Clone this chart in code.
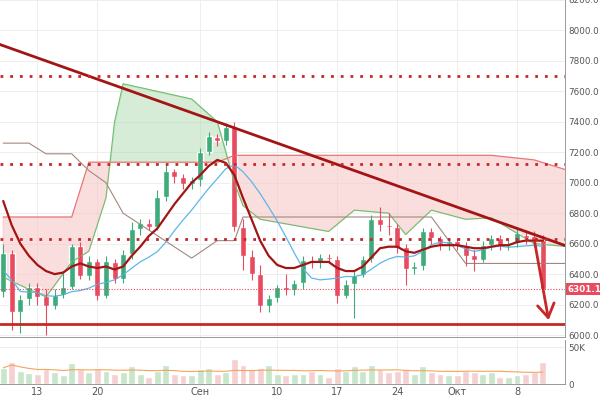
import numpy as np, pandas as pd, matplotlib
matplotlib.use("Agg")
import matplotlib.pyplot as plt, seaborn as sns

dates = pd.date_range("2018-08-09", "2018-10-11")
opens  = [6282,6538,6150,6236,6315,6256,6190,6262,6315,6584,6387,6485,6256,6480,6367,6530,6695,6735,6710,6905,7080,7036,6990,7017,7200,7300,7272,7365,6710,6520,6400,6190,6243,6315,6295,
          6339,6492,6475,6510,6500,6256,6335,6394,6497,6765,6725,6710,6580,6436,6452,6686,6634,6595,6617,6590,6525,6492,6588,6638,6590,6605,6660,6650,6627]
closes = [6538,6150,6236,6315,6250,6190,6262,6315,6584,6387,6485,6256,6485,6367,6530,6695,6735,6710,6905,7080,7036,6990,7017,7200,7305,7272,7365,6710,6520,6400,6190,6243,6315,6295,6340,
          6492,6470,6510,6500,6256,6335,6394,6497,6765,6722,6710,6574,6436,6452,6686,6634,6595,6617,6590,6518,6492,6588,6638,6590,6605,6667,6634,6617,6301]
highs  = [6600,6560,6260,6340,6340,6300,6300,6420,6600,6610,6520,6500,6520,6500,6560,6740,6760,6760,6950,7120,7090,7060,7040,7230,7330,7320,7390,7400,6760,6560,6460,6260,6330,6400,6360,
          6520,6520,6530,6530,6520,6360,6420,6520,6790,6840,6800,6730,6600,6480,6700,6700,6650,6640,6640,6610,6560,6620,6660,6660,6630,6700,6690,6680,6660]
lows   = [6250,6033,6013,6200,6200,6000,6170,6240,6300,6370,6360,6230,6240,6340,6340,6500,6660,6690,6690,6880,7000,6960,6960,6980,7180,7240,7250,6680,6430,6360,6150,6150,6220,6260,6260,
          6300,6440,6440,6480,6208,6240,6109,6380,6480,6680,6660,6540,6330,6400,6430,6600,6560,6560,6560,6450,6420,6480,6560,6560,6560,6580,6600,6580,6280]
volumes = [22,30,18,15,14,20,16,12,28,20,16,22,18,14,16,24,14,10,18,26,14,12,12,20,22,14,16,34,26,20,22,26,14,12,14,
           14,18,14,10,22,18,24,18,26,20,16,18,20,14,24,16,14,12,12,18,16,14,16,10,10,12,14,16,30]
red_line = [6880,6720,6600,6520,6460,6420,6400,6410,6450,6470,6450,6440,6450,6430,6450,6520,6580,6650,6700,6780,6860,6930,7000,7050,7110,7150,7130,7050,6900,6760,6620,6520,6460,6440,6440,
            6460,6480,6480,6480,6440,6420,6420,6450,6510,6570,6580,6580,6550,6540,6560,6580,6590,6590,6590,6580,6570,6570,6580,6590,6590,6610,6620,6620,6620]
cloud_dates = pd.to_datetime(["2018-08-09","2018-08-12","2018-08-14","2018-08-17","2018-08-19","2018-08-21","2018-08-22","2018-08-23",
    "2018-08-31","2018-09-03","2018-09-05","2018-09-06","2018-09-08","2018-09-16","2018-09-19","2018-09-23","2018-09-25","2018-09-28",
    "2018-10-02","2018-10-05","2018-10-10","2018-10-14"])
span_a = [6380,6300,6250,6480,6550,6900,7400,7650,7550,7400,7000,6850,6760,6680,6820,6800,6660,6820,6760,6770,6600,6580]
span_b = [6775,6775,6775,6775,7135,7135,7135,7135,7135,7135,7180,7180,7180,7180,7180,7180,7180,7180,7180,7180,7150,7080]
kijun  = [7260,7260,7190,7190,7080,7000,6900,6800,6505,6620,6620,6775,6775,6775,6775,6775,6775,6775,6470,6470,6470,6470]
xticks = pd.to_datetime(["2018-08-13","2018-08-20","2018-09-01","2018-09-10","2018-09-17","2018-09-24","2018-10-01","2018-10-08"])
xlabels = ["13","20","Сен","10","17","24","Окт","8"]

sns.set_theme(style="whitegrid")
plt.rcParams['font.family'] = ['DejaVu Sans']
df = pd.DataFrame(dict(date=dates, o=opens, c=closes, h=highs, l=lows, v=volumes, ma=red_line))
df["up"] = df.c >= df.o
GREEN, RED = "#3dab7b", "#e84a5f"
fig = plt.figure(figsize=(6, 4), dpi=100)
ax = fig.add_axes([0, 0.1575, 0.942, 0.8425])
axv = fig.add_axes([0, 0.04, 0.942, 0.11], sharex=ax)

A, B = np.array(span_a), np.array(span_b)
ax.fill_between(cloud_dates, A, B, where=A >= B, color="#a5d6a7", alpha=0.45, interpolate=True)
ax.fill_between(cloud_dates, A, B, where=A < B, color="#f8c7c7", alpha=0.6, interpolate=True)
ax.plot(cloud_dates, A, color="#6fbf6f", lw=0.8)
ax.plot(cloud_dates, B, color="#e57373", lw=0.8)
ax.plot(cloud_dates, kijun, color="#a1887f", lw=0.8)
df["tenkan"] = ((df.h + df.l) / 2).rolling(9, min_periods=1).mean()
ax.plot(df.date, df.tenkan, color="#5bb8e8", lw=0.9)

cols = np.where(df.up, GREEN, RED)
ax.vlines(df.date, df.l, df.h, colors=cols, lw=0.8)
ax.bar(df.date, (df.c - df.o).abs().clip(lower=6), bottom=np.minimum(df.o, df.c), color=cols, width=0.7)
sns.lineplot(data=df, x="date", y="ma", ax=ax, color="#a31515", lw=1.6)

t0, t1 = pd.Timestamp("2018-07-20"), pd.Timestamp("2018-10-14")
ax.plot([t0, t1], [8300, 6580], color="#a31515", lw=2)
for lvl in [7700, 7120, 6630]:
    ax.axhline(lvl, color="#c62828", ls=(0, (1, 2.5)), lw=2)
ax.axhline(6301, color="#e84a5f", ls=(0, (1, 1.5)), lw=0.8)
ax.axhline(6075, color="#c62828", lw=2)
ax.annotate("", xy=(pd.Timestamp("2018-10-11 18:00"), 6080), xytext=(pd.Timestamp("2018-10-10"), 6630),
            arrowprops=dict(arrowstyle="->,head_length=0.8,head_width=0.5", color="#c62828", lw=2))

ax.set_xlim(pd.Timestamp("2018-08-08 15:00"), pd.Timestamp("2018-10-13 15:00"))
ax.set_ylim(5987, 8198)
ax.set_yticks(np.arange(6000, 8201, 200))
ax.set_yticklabels([f"{v:.1f}" for v in np.arange(6000, 8201, 200)])
ax.yaxis.tick_right()
ax.tick_params(axis="y", labelsize=6.3, colors="#555", pad=2, length=0)
ax.tick_params(axis="x", labelbottom=False, length=0)
ax.set_xlabel(""); ax.set_ylabel("")
ax.text(1.004, (6301 - 5987) / (8198 - 5987), "6301.1", transform=ax.transAxes, fontsize=6.3, color="white",
        weight="bold", va="center", ha="left", bbox=dict(boxstyle="square,pad=0.2", fc="#e84a5f", ec="none"))

axv.bar(df.date, df.v, color=np.where(df.up, "#c8e6c9", "#f5d0d0"), width=0.8)
axv.plot(df.date, df.v.rolling(20, min_periods=1).mean(), color="#f4a460", lw=0.8)
axv.set_ylim(0, 60)
axv.set_yticks([0, 50]); axv.set_yticklabels(["0", "50K"])
axv.yaxis.tick_right()
axv.tick_params(axis="y", labelsize=6.3, colors="#555", pad=2, length=0)
axv.set_xticks(xticks); axv.set_xticklabels(xlabels)
axv.tick_params(axis="x", labelsize=7, colors="#555", pad=2, length=0)
for a in (ax, axv):
    a.grid(color="#eeeeee", lw=0.7)
    for s in a.spines.values(): s.set_color("#888"); s.set_linewidth(0.6)
    a.spines["left"].set_visible(False); a.spines["top"].set_visible(False)
fig.savefig("out.png", dpi=100)
